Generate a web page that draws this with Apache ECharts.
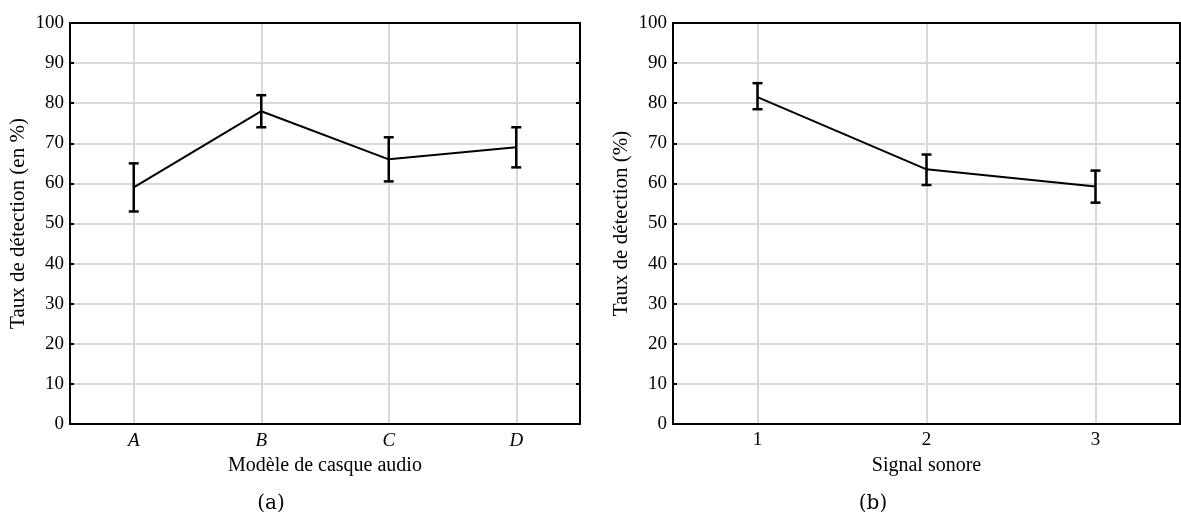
<!DOCTYPE html>
<html>
<head>
<meta charset="utf-8">
<script src="https://cdn.jsdelivr.net/npm/echarts@6/dist/echarts.min.js"></script>
<style>
  html, body { margin: 0; padding: 0; background: #fff; }
  #chart { width: 1181px; height: 516px; }
</style>
</head>
<body>
<div id="chart"></div>
<script>
// (a) modele de casque
const catsA = ['A', 'B', 'C', 'D']
const meanA = [59, 78, 66, 69]
const lowA = [53, 74, 60.5, 64]
const highA = [65, 82, 71.5, 74]

// (b) signal sonore
const catsB = ['1', '2', '3']
const meanB = [81.5, 63.5, 59.2]
const lowB = [78.5, 59.6, 55.2]
const highB = [85, 67.2, 63.2]

const yTicks = { min: 0, max: 100, interval: 10 }

const font = 'Liberation Serif'
const black = '#000'
const gridGray = '#d9d9d9'

function xAxes(gridIndex, cats, italic, name) {
    return [
        {
            gridIndex, type: 'category', data: cats, position: 'bottom',
            name, nameLocation: 'middle', nameGap: 32,
            nameTextStyle: { fontFamily: font, fontSize: 20, color: black },
            axisLine: { onZero: false, lineStyle: { color: black, width: 2 } },
            axisTick: { inside: true, alignWithLabel: true, length: 4, lineStyle: { color: black, width: 2 } },
            axisLabel: { fontFamily: font, fontSize: 19, color: black, fontStyle: italic ? 'italic' : 'normal', margin: 7 },
            splitLine: { show: true, alignWithLabel: true, lineStyle: { color: gridGray, width: 2 } }
        },
        {
            gridIndex, type: 'category', data: cats, position: 'top',
            axisLine: { onZero: false, lineStyle: { color: black, width: 2 } },
            axisTick: { inside: true, alignWithLabel: true, length: 4, lineStyle: { color: black, width: 2 } },
            axisLabel: { show: false },
            splitLine: { show: false }
        }
    ]
}

function yAxes(gridIndex, name) {
    return [
        {
            gridIndex, type: 'value', position: 'left', ...yTicks,
            name, nameLocation: 'middle', nameGap: 41,
            nameTextStyle: { fontFamily: font, fontSize: 21, color: black },
            axisLine: { show: true, onZero: false, lineStyle: { color: black, width: 2 } },
            axisTick: { show: true, inside: true, length: 4, lineStyle: { color: black, width: 2 } },
            axisLabel: { fontFamily: font, fontSize: 19, color: black, margin: 6 },
            splitLine: { show: true, lineStyle: { color: gridGray, width: 2 } }
        },
        {
            gridIndex, type: 'value', position: 'right', ...yTicks,
            axisLine: { show: true, onZero: false, lineStyle: { color: black, width: 2 } },
            axisTick: { show: true, inside: true, length: 4, lineStyle: { color: black, width: 2 } },
            axisLabel: { show: false },
            splitLine: { show: false }
        }
    ]
}

function errorBars(xAxisIndex, yAxisIndex, low, high) {
    return {
        type: 'custom', xAxisIndex, yAxisIndex, z: 5,
        data: low.map((l, i) => [i, l, high[i]]),
        renderItem: function (params, api) {
            const lo = api.coord([api.value(0), api.value(1)])
            const hi = api.coord([api.value(0), api.value(2)])
            const w = 5
            const style = { stroke: black, lineWidth: 2.5 }
            return {
                type: 'group',
                children: [
                    { type: 'line', shape: { x1: lo[0], y1: lo[1], x2: hi[0], y2: hi[1] }, style },
                    { type: 'line', shape: { x1: lo[0] - w, y1: lo[1], x2: lo[0] + w, y2: lo[1] }, style },
                    { type: 'line', shape: { x1: hi[0] - w, y1: hi[1], x2: hi[0] + w, y2: hi[1] }, style }
                ]
            }
        }
    }
}

const chart = echarts.init(document.getElementById('chart'), null, { renderer: 'canvas' })
chart.setOption({
    animation: false,
    backgroundColor: '#fff',
    grid: [
        { left: 70, top: 23, width: 510, height: 401 },
        { left: 673, top: 23, width: 507, height: 401 }
    ],
    xAxis: [...xAxes(0, catsA, true, 'Modèle de casque audio'), ...xAxes(1, catsB, false, 'Signal sonore')],
    yAxis: [...yAxes(0, 'Taux de détection (en %)'), ...yAxes(1, 'Taux de détection (%)')],
    series: [
        {
            type: 'line', xAxisIndex: 0, yAxisIndex: 0, data: meanA, z: 4,
            showSymbol: false, lineStyle: { color: black, width: 2 }
        },
        errorBars(0, 0, lowA, highA),
        {
            type: 'line', xAxisIndex: 2, yAxisIndex: 2, data: meanB, z: 4,
            showSymbol: false, lineStyle: { color: black, width: 2 }
        },
        errorBars(2, 2, lowB, highB)
    ],
    graphic: [
        { type: 'text', x: 271, y: 504, style: { text: '(a)', font: '20px "DejaVu Serif"', fill: black, align: 'center', verticalAlign: 'middle' } },
        { type: 'text', x: 873, y: 504, style: { text: '(b)', font: '20px "DejaVu Serif"', fill: black, align: 'center', verticalAlign: 'middle' } }
    ]
})
</script>
</body>
</html>
